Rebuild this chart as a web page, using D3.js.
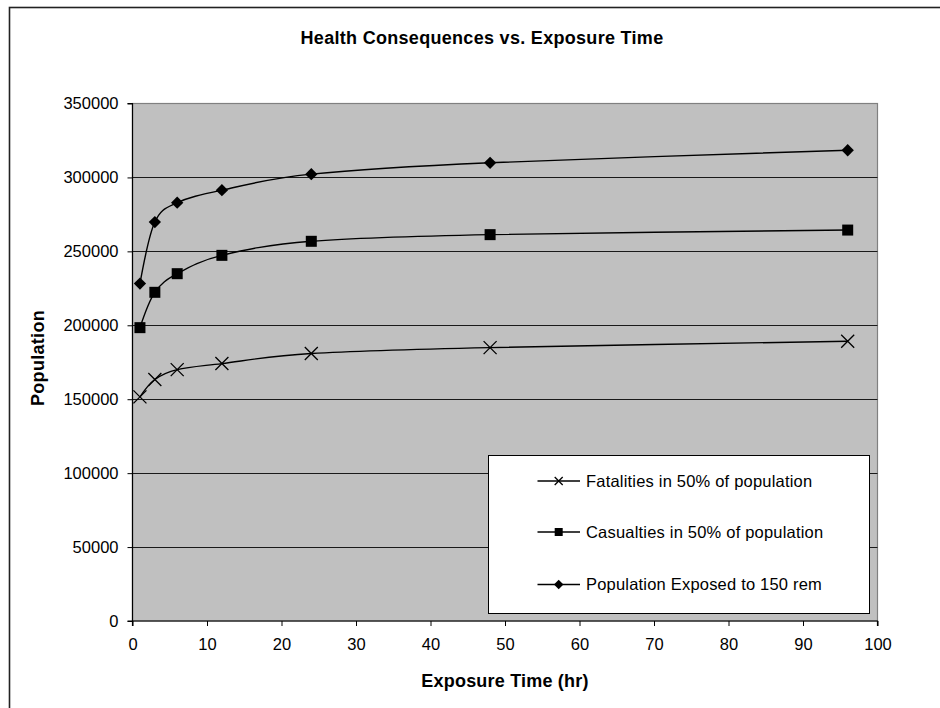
<!DOCTYPE html>
<html>
<head>
<meta charset="utf-8">
<script src="https://cdn.jsdelivr.net/npm/d3@7"></script>
<style>
  html, body { margin: 0; padding: 0; background: #fff; }
  svg { display: block; }
  text { font-family: "Liberation Sans", Arial, sans-serif; fill: #000; }
</style>
</head>
<body>
<svg id="chart" width="940" height="708"></svg>
<script>
// ---- data ----
const hours = [1, 3, 6, 12, 24, 48, 96];
const fatalities = [151600, 163300, 170000, 174100, 180900, 184900, 189200];
const casualties = [198400, 222300, 234900, 247300, 256800, 261300, 264400];
const exposed = [228200, 269800, 282900, 291400, 302200, 309900, 318400];
const seriesNames = ["Fatalities in 50% of population", "Casualties in 50% of population", "Population Exposed to 150 rem"];
const seriesMarkers = ["x", "square", "diamond"];
const xTicks = [0, 10, 20, 30, 40, 50, 60, 70, 80, 90, 100];
const yTicks = [0, 50000, 100000, 150000, 200000, 250000, 300000, 350000];
const chartTitle = "Health Consequences vs. Exposure Time";
const xTitle = "Exposure Time (hr)";
const yTitle = "Population";

// ---- layout ----
const plot = { left: 132.5, right: 877.5, top: 103.5, bottom: 621 };
const svg = d3.select("#chart");

const x = d3.scaleLinear().domain([0, 100]).range([plot.left, plot.right]);
const y = d3.scaleLinear().domain([0, 350000]).range([plot.bottom, plot.top]);

// outer chart frame (only left and top visible)
svg.append("rect").attr("x", 9.5).attr("y", 7.5).attr("width", 1000).attr("height", 1000)
  .attr("fill", "#fff").attr("stroke", "#222").attr("stroke-width", 1.6);

// plot area
svg.append("rect")
  .attr("x", plot.left).attr("y", plot.top)
  .attr("width", plot.right - plot.left).attr("height", plot.bottom - plot.top)
  .attr("fill", "#c0c0c0").attr("stroke", "#808080").attr("stroke-width", 1.2);

// gridlines
svg.append("g").selectAll("line")
  .data(yTicks.filter(d => d > 0 && d < 350000))
  .join("line")
  .attr("x1", plot.left).attr("x2", plot.right)
  .attr("y1", d => Math.round(y(d)) + 0.5).attr("y2", d => Math.round(y(d)) + 0.5)
  .attr("stroke", "#1a1a1a").attr("stroke-width", 1);

// axes
const yAxis = d3.axisLeft(y).tickValues(yTicks).tickFormat(d3.format("d")).tickSize(5).tickPadding(9);
const gy = svg.append("g").attr("transform", `translate(${plot.left},0)`).call(yAxis);
const xAxis = d3.axisBottom(x).tickValues(xTicks).tickFormat(d3.format("d")).tickSize(5).tickPadding(8);
const gx = svg.append("g").attr("transform", `translate(0,${plot.bottom})`).call(xAxis);
[gx, gy].forEach(g => {
  g.select(".domain").attr("stroke", "#000").attr("stroke-width", 1.2);
  g.selectAll(".tick line").attr("stroke", "#000").attr("stroke-width", 1);
  g.selectAll(".tick text").attr("font-size", "16.5px").attr("fill", "#000")
    .style("font-family", '"Liberation Sans", Arial, sans-serif');
});
gy.select(".domain").attr("d", `M-5,${plot.top}H0V${plot.bottom}H-5`);
gx.select(".domain").attr("d", `M${plot.left},5V0H${plot.right}V5`);
gx.selectAll(".tick text").attr("dy", "0.95em");

// titles
svg.append("text").attr("x", 482).attr("y", 44).attr("text-anchor", "middle")
  .attr("font-size", "18px").attr("font-weight", "bold").attr("letter-spacing", "0.3px")
  .text(chartTitle);
svg.append("text").attr("x", 505).attr("y", 687).attr("text-anchor", "middle")
  .attr("font-size", "18px").attr("font-weight", "bold").attr("letter-spacing", "0.2px")
  .text(xTitle);
svg.append("text").attr("transform", "translate(43.5,358) rotate(-90)").attr("text-anchor", "middle")
  .attr("font-size", "18px").attr("font-weight", "bold").attr("letter-spacing", "0.3px")
  .text(yTitle);

// series
const allSeries = [fatalities, casualties, exposed].map((vals, i) => ({
  name: seriesNames[i], marker: seriesMarkers[i],
  points: hours.map((h, j) => ({ h, v: vals[j] }))
}));

const line = d3.line().x(d => x(d.h)).y(d => y(d.v)).curve(d3.curveCatmullRom.alpha(0));

function drawMarker(g, type, cx, cy, s) {
  if (type === "x") {
    g.append("path").attr("d", `M${cx - s},${cy - s}L${cx + s},${cy + s}M${cx - s},${cy + s}L${cx + s},${cy - s}`)
      .attr("stroke", "#000").attr("stroke-width", 1.3).attr("fill", "none");
  } else if (type === "square") {
    g.append("rect").attr("x", cx - s).attr("y", cy - s).attr("width", 2 * s).attr("height", 2 * s)
      .attr("fill", "#000");
  } else {
    g.append("path").attr("d", `M${cx},${cy - s * 1.1}L${cx + s * 1.1},${cy}L${cx},${cy + s * 1.1}L${cx - s * 1.1},${cy}Z`)
      .attr("fill", "#000");
  }
}

const sizes = { x: 6.5, square: 5.5, diamond: 5.6 };
allSeries.forEach(s => {
  const g = svg.append("g");
  g.append("path").datum(s.points).attr("d", line)
    .attr("fill", "none").attr("stroke", "#000").attr("stroke-width", 1.4);
  s.points.forEach(p => drawMarker(g, s.marker, x(p.h), y(p.v), sizes[s.marker]));
});

// legend
const lg = svg.append("g");
lg.append("rect").attr("x", 488.5).attr("y", 455.5).attr("width", 381).attr("height", 158)
  .attr("fill", "#fff").attr("stroke", "#000").attr("stroke-width", 1);
const legendRows = [481, 532, 584.5];
const legendSizes = { x: 4, square: 4, diamond: 4.3 };
allSeries.forEach((s, i) => {
  const cy = legendRows[i];
  lg.append("line").attr("x1", 537.5).attr("x2", 580).attr("y1", cy).attr("y2", cy)
    .attr("stroke", "#000").attr("stroke-width", 1.5);
  drawMarker(lg, s.marker, 558.7, cy, legendSizes[s.marker]);
  lg.append("text").attr("x", 586).attr("y", cy).attr("dy", "0.36em")
    .attr("font-size", "16.5px").attr("letter-spacing", "0.2px").text(s.name);
});
</script>
</body>
</html>
